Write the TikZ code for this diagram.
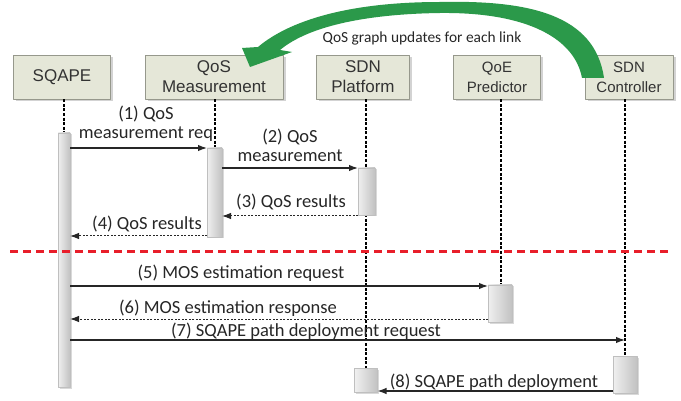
\documentclass[tikz,border=0pt]{standalone}
\usepackage{fontspec}
\setmainfont{Liberation Sans}
\newfontfamily\lblfont{Carlito}
\usetikzlibrary{arrows.meta,shadows}
\definecolor{boxfill}{RGB}{229,231,216}
\definecolor{boxline}{RGB}{150,152,140}
\definecolor{updgreen}{RGB}{43,153,74}
\definecolor{sepred}{RGB}{232,30,42}
\tikzset{
	actor/.style={draw=boxline, fill=boxfill, minimum height=44pt, align=center, text=black!80, inner sep=1pt,
		drop shadow={opacity=.35, shadow xshift=2.5pt, shadow yshift=-2.5pt}},
	actbar/.style={draw=black!25, left color=black!6, right color=black!24, outer sep=0pt, inner sep=0pt,
		drop shadow={opacity=.3, shadow xshift=1.5pt, shadow yshift=-1.5pt}},
	lifeline/.style={line width=1.6pt, dash pattern=on 3pt off 1.6pt},
	msg/.style={->, line width=1.2pt, black!85},
	reply/.style={->, line width=1pt, dash pattern=on 2pt off 1.5pt, black!85},
	lbl/.style={font=\lblfont\fontsize{18.5}{19}\selectfont, text=black!85, align=center, inner sep=0pt}
}
\begin{document}
\begin{tikzpicture}[x=1pt, y=-1pt, line join=round, >={Latex[length=9pt,width=6.5pt]}]
	\useasboundingbox (0,0) rectangle (681,401);
	% participants
	\node[actor, minimum width=97pt, font=\fontsize{17}{20}\selectfont] (sqape) at (62,77) {SQAPE};
	\node[actor, minimum width=138pt, font=\fontsize{17}{20}\selectfont] (qosm) at (214,77) {QoS\\Measurement};
	\node[actor, minimum width=93pt, font=\fontsize{17}{20}\selectfont] (sdnp) at (363,77) {SDN\\Platform};
	\node[actor, minimum width=87pt, font=\fontsize{15}{20}\selectfont] (qoep) at (497,77) {QoE\\Predictor};
	\node[actor, minimum width=88pt, font=\fontsize{15}{20}\selectfont] (sdnc) at (629,77) {SDN\\Controller};
	% activation bars
	\coordinate (barS) at (64,260);
	\coordinate (barP) at (366,0);
	\draw[lifeline] (sqape.south -| barS) -- (64,133);
	\draw[lifeline] (qosm.south) ++(1,0) -- (215,148);
	\draw[lifeline] (sdnp.south -| barP) -- (366,368);
	\draw[lifeline] (qoep.south) ++(4,0) -- (501,285);
	\draw[lifeline] (sdnc.south) ++(-4,0) -- (625,356);
	\node[actbar, minimum width=12pt, minimum height=254pt] (actS) at (barS) {};
	\node[actbar, minimum width=15pt, minimum height=89pt] (actM) at (214.5,192.5) {};
	\node[actbar, minimum width=17pt, minimum height=47pt] (actP) at (366.5,191.5) {};
	\node[actbar, minimum width=24pt, minimum height=37pt] (actQ) at (500,303.5) {};
	\node[actbar, minimum width=24pt, minimum height=37pt] (actC) at (625,374.5) {};
	\node[actbar, minimum width=23pt, minimum height=24pt] (actD) at (366,380) {};
	% messages
	\coordinate (m1) at (0,148);
	\coordinate (m2) at (0,168);
	\coordinate (m3) at (0,216);
	\coordinate (m4) at (0,236);
	\coordinate (m5) at (0,286);
	\coordinate (m6) at (0,319);
	\coordinate (m7) at (0,340);
	\coordinate (m8) at (0,391);
	\draw[msg] (actS.east |- m1) -- (actM.west |- m1);
	\draw[msg] (actM.east |- m2) -- (actP.west |- m2);
	\draw[reply] (actP.west |- m3) -- (actM.east |- m3);
	\draw[reply] (actM.west |- m4) -- (actS.east |- m4);
	\draw[msg] (actS.east |- m5) -- (actQ.west |- m5);
	\draw[reply] (actQ.west |- m6) -- (actS.east |- m6);
	\draw[msg] (actS.east |- m7) -- (actC.north |- m7);
	\draw[msg] (actC.west |- m8) -- (actD.east |- m8);
	\node[lbl] (l1) at (146,124) {(1) QoS\\measurement req};
	\node[lbl] (l2) at (290,145) {(2) QoS\\measurement};
	\node[lbl] (l3) at (291,202) {(3) QoS results};
	\node[lbl] (l4) at (147,224) {(4) QoS results};
	\node[lbl] (l5) at (241,273) {(5) MOS estimation request};
	\node[lbl] (l6) at (228,308) {(6) MOS estimation response};
	\node[lbl] (l7) at (306,331) {(7) SQAPE path deployment request};
	\node[lbl] (l8) at (494,382) {(8) SQAPE path deployment};
	% separator
	\draw[sepred, line width=3pt, dash pattern=on 8pt off 5pt] (10,252) -- (668,252);
	% graph update arrow
	\fill[updgreen] (604,78) .. controls (595,15) and (530,0) .. (440,2)
		.. controls (350,2) and (290,20) .. (258,47) -- (242,48) -- (250,67) -- (292,52) -- (280,50)
		.. controls (310,25) and (370,14) .. (440,13)
		.. controls (530,12) and (575,40) .. (582,78) -- cycle;
	\node[font=\lblfont\fontsize{15.4}{17}\selectfont, text=black!85] (upd) at (422,38) {QoS graph updates for each link};
\end{tikzpicture}
\end{document}
